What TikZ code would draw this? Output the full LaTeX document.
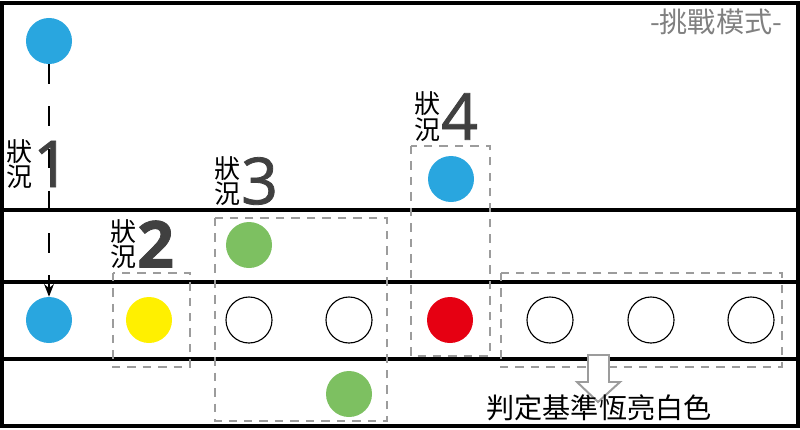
\documentclass[tikz,border=0pt]{standalone}
\usepackage{fontspec}
\newfontfamily\numfont[FakeBold=1.2]{Open Sans}
\newfontfamily\cjk{Noto Sans CJK TC}
\usetikzlibrary{arrows.meta,positioning}

\definecolor{ledblue}{HTML}{29A6DF}
\definecolor{ledyellow}{HTML}{FFF000}
\definecolor{ledgreen}{HTML}{7DC061}
\definecolor{ledred}{HTML}{E60012}
\definecolor{boxgray}{HTML}{9C9C9C}
\definecolor{numgray}{HTML}{404040}

\begin{document}
\begin{tikzpicture}[x=0.025cm,y=-0.025cm,
    led/.style={circle,minimum size=1.15cm,inner sep=0pt},
    hollow/.style={led,draw,line width=0.8pt},
    group/.style={draw=boxgray,line width=1.4pt,dash pattern=on 6pt off 5pt},
    rail/.style={line width=2.5pt},
    tag/.style={align=left,inner sep=0pt,font=\cjk\fontsize{18.5}{18}\selectfont},
    num/.style={inner sep=0pt,text=numgray,font=\numfont\fontsize{46}{46}\selectfont}]
  \useasboundingbox (0,0) rectangle (800,429);

  %% the three rows of the strip
  \draw[rail] (2,3) rectangle (798,426);
  \draw[rail] (2,210) -- (798,210);
  \draw[rail] (2,282) -- (798,282);
  \draw[rail] (2,359) -- (798,359);

  %% dashed groups, one per case
  \draw[group] (113,273) rectangle (190,367);
  \draw[group] (215,218) rectangle (387,421);
  \draw[group] (411,146) rectangle (490,356);
  \draw[group] (501,273) rectangle (782,367);

  \node[led,fill=ledblue] (dropA) at (49,41) {};
  \node[led,fill=ledblue] (ledA) at (49,320) {};
  \node[led,fill=ledyellow] (ledB) at (149,320) {};
  \node[led,fill=ledgreen] (upC) at (249,245) {};
  \node[led,fill=ledgreen] (downC) at (349,394) {};
  \node[led,fill=ledblue] (upD) at (451,179) {};
  \node[led,fill=ledred] (ledD) at (450,320) {};
  \foreach \x/\n in {249/a,349/b,550/c,651/d,751/e}
    \node[hollow] (off\n) at (\x,320) {};

  \draw[line width=1pt,dash pattern=on 14pt off 16pt,-{Stealth[length=9pt,width=7pt]}] (dropA.south) -- (ledA.north);

  %% case labels
  \node[tag] (tag1) at (19.5,164) {狀\\況};
  \node[num,right=0pt of tag1] (num1) {1};
  \node[tag] (tag2) at (123.5,244) {狀\\況};
  \node[num,right=0pt of tag2,font=\numfont\bfseries\fontsize{46}{46}\selectfont] (num2) {2};
  \node[tag] (tag3) at (227.5,181) {狀\\況};
  \node[num,right=0pt of tag3] (num3) {3};
  \node[tag] (tag4) at (427.5,116.5) {狀\\況};
  \node[num,right=0pt of tag4] (num4) {4};

  \node[text=gray,font=\cjk\fontsize{20}{20}\selectfont] (mode) at (716,22) {-挑戰模式-};

  %% hollow arrow down to the note
  \draw[boxgray,line width=1.4pt,fill=white] (588,355) -- (609,355) -- (609,382) -- (620,382)
    -- (598,402) -- (577,382) -- (588,382) -- cycle;
  \node[font=\cjk\fontsize{20}{20}\selectfont] (note) at (599,408) {判定基準恆亮白色};
\end{tikzpicture}
\end{document}
